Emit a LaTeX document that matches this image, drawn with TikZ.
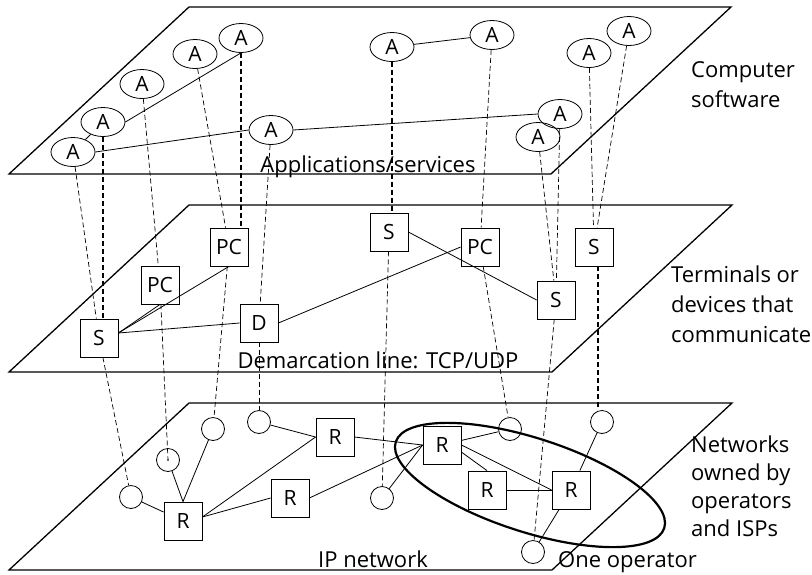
\documentclass[tikz,border=0pt]{standalone}
\usepackage{fontspec}
\setmainfont{Open Sans}
\usetikzlibrary{shapes.geometric}
\begin{document}
\begin{tikzpicture}[x=1pt,y=-1pt]
        \tikzset{
            app/.style={ellipse, draw, line width=0.8pt, minimum width=44pt, minimum height=29pt, inner sep=0pt, font=\fontsize{21}{25}\selectfont},
            box/.style={rectangle, draw, line width=0.8pt, minimum size=38pt, inner sep=0pt, font=\fontsize{21}{25}\selectfont},
            host/.style={circle, draw, line width=0.8pt, minimum size=23pt, inner sep=0pt},
            plane/.style={line width=1.3pt},
            link/.style={line width=0.8pt},
            map/.style={line width=0.7pt, dash pattern=on 5pt off 3pt},
            mapbold/.style={line width=1.8pt, dash pattern=on 5pt off 3pt},
            txt/.style={font=\fontsize{22}{30}\selectfont, align=left, inner sep=0pt}
        }
        \useasboundingbox (0,0) rectangle (812,574);

        % Layers
        \draw[plane] (9,174) -- (189,7) -- (731,7) -- (551,174) -- cycle;
        \draw[plane] (9,372) -- (189,205) -- (732,205) -- (552,372) -- cycle;
        \draw[plane] (9,570) -- (189,403) -- (732,403) -- (552,570) -- cycle;

        % Applications
        \node[app] (A1) at (73,152) {A};
        \node[app] (A2) at (103,122) {A};
        \node[app] (A3) at (142,84) {A};
        \node[app] (A4) at (195,54) {A};
        \node[app] (A5) at (241,38) {A};
        \node[app] (A6) at (271,130) {A};
        \node[app] (A7) at (392,47) {A};
        \node[app] (A8) at (492,35) {A};
        \node[app] (A9) at (589,53) {A};
        \node[app] (A10) at (629,31) {A};
        \node[app] (A11) at (560,114) {A};
        \node[app] (A12) at (538,137) {A};

        % Devices
        \node[box] (Sa) at (99,338) {S};
        \node[box] (PCa) at (160,285) {PC};
        \node[box] (PCb) at (229,247) {PC};
        \node[box] (D) at (259,323) {D};
        \node[box] (Sb) at (389,232) {S};
        \node[box] (PCc) at (480,247) {PC};
        \node[box] (Sc) at (556,300) {S};
        \node[box] (Sd) at (594,247) {S};

        % IP network
        \node[host] (c1) at (131,497) {};
        \node[host] (c2) at (168,460) {};
        \node[host] (c3) at (213,429) {};
        \node[host] (c4) at (259,422) {};
        \node[host] (c5) at (382,498) {};
        \node[host] (c6) at (510,429) {};
        \node[host] (c7) at (602,422) {};
        \node[host] (c8) at (533,552) {};
        \node[box] (R1) at (183,521) {R};
        \node[box] (R2) at (335,437) {R};
        \node[box] (R3) at (290,498) {R};
        \node[box] (R4) at (442,445) {R};
        \node[box] (R5) at (487,490) {R};
        \node[box] (R6) at (571,490) {R};
        \node[draw, ellipse, line width=2.2pt, minimum width=282pt, minimum height=94pt, rotate=-17.8] (op) at (530,485) {};

        % Edges
        \draw[link] (A1) -- (A2);
        \draw[link] (A2.east) -- (A5.south);
        \draw[link] (A1.east) -- (A6.west);
        \draw[link] (A6.east) -- (A11.west);
        \draw[link] (A7) -- (A8);
        \draw[link] ([yshift=5pt]Sa.east) -- (PCa.south);
        \draw[link] ([yshift=5pt]Sa.east) -- (PCb.south);
        \draw[link] ([yshift=5pt]Sa.east) -- (D.west);
        \draw[link] (D.east) -- (PCc.west);
        \draw[link] (Sb.east) -- (Sc.west);
        \draw[link] (c1) -- (R1);
        \draw[link] (c2) -- (R1.north);
        \draw[link] (c3) -- (R1.north);
        \draw[link] ([yshift=4pt]R1.east) -- (R2.west);
        \draw[link] ([yshift=4pt]R1.east) -- (R3.west);
        \draw[link] (c4) -- (R2.west);
        \draw[link] (R2.east) -- (R4.west);
        \draw[link] (R3.east) -- (R4.west);
        \draw[link] (c5) -- (R4.west);
        \draw[link] (R4) -- (c6);
        \draw[link] (R4.-20) -- (R5.north);
        \draw[link] (R4.east) -- (R6.west);
        \draw[link] (R5.east) -- (R6.west);
        \draw[link] (R6) -- (c7);
        \draw[link] (R6) -- (c8);

        % Mappings between layers
        \draw[map] (A1) -- (Sa);
        \draw[mapbold] (A2.south) -- (A2.south |- Sa.north);
        \draw[map] (A3) -- (PCa);
        \draw[map] (A4) -- (PCb);
        \draw[mapbold] (A5.south) -- (A5.south |- PCb.north);
        \draw[map] (A6) -- (D);
        \draw[mapbold] (A7.south) -- (A7.south |- Sb.north);
        \draw[map] (A8) -- (PCc);
        \draw[map] (A11) -- (Sc);
        \draw[map] (A12) -- (Sc);
        \draw[map] (A9) -- (Sd);
        \draw[map] (A10) -- (Sd);
        \draw[map] (Sa) -- (c1);
        \draw[map] (PCa) -- (c2.center);
        \fill (c2.center) circle (0.9pt);
        \draw[map] (PCb) -- (c3);
        \draw[map] (D) -- (c4);
        \draw[map] (Sb) -- (c5);
        \draw[map] (PCc) -- (c6);
        \draw[map] (Sc) -- (c8);
        \draw[mapbold] ([xshift=4pt]Sd.south) -- ([xshift=4pt]Sd.south |- c7.north);

        % Labels
        \node[txt, anchor=base] (apps) at (368,172) {Applications/services};
        \node[txt, anchor=base] (demarc) at (378,368) {Demarcation line: TCP/UDP};
        \node[txt, anchor=base] (ipnet) at (373,567) {IP network};
        \node[txt, anchor=base west] (oneop) at (558,567) {One operator};
        \node[txt, anchor=base west] (soft) at (691,107) {Computer\\software};
        \node[txt, anchor=base west] (term) at (671,342) {Terminals or\\devices that\\communicate};
        \node[txt, anchor=base west, font=\fontsize{22}{28}\selectfont] (nets) at (691,536) {Networks\\owned by\\operators\\and ISPs};
\end{tikzpicture}
\end{document}
